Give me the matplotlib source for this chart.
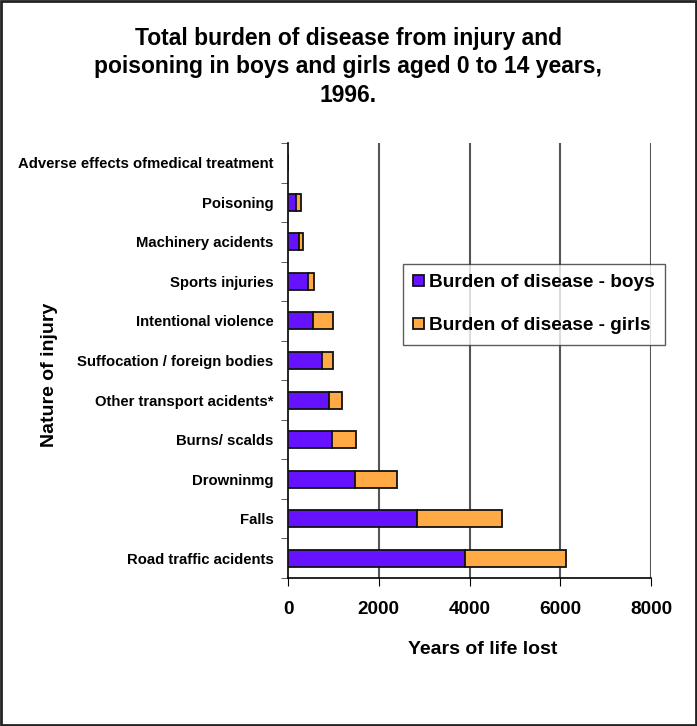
import matplotlib
matplotlib.use("Agg")
import matplotlib.pyplot as plt
import numpy as np

categories = ["Road traffic acidents", "Falls", "Drowninmg", "Burns/ scalds",
              "Other transport acidents*", "Suffocation / foreign bodies",
              "Intentional violence", "Sports injuries", "Machinery acidents",
              "Poisoning", "Adverse effects ofmedical treatment"]
boys = [3900, 2850, 1470, 970, 900, 740, 560, 450, 235, 180, 0]
girls = [2230, 1860, 930, 520, 300, 255, 435, 115, 100, 105, 0]
xticks = [0, 2000, 4000, 6000, 8000]

plt.rcParams['font.family'] = ['Liberation Sans', 'DejaVu Sans']
plt.rcParams['font.weight'] = 'bold'

fig = plt.figure(figsize=(6.97, 7.26), dpi=100)
ax = fig.add_axes([288/697, 1-578/726, (651-288)/697, (578-143)/726])

y = np.arange(len(categories))
purple = '#6611FF'
orange = '#FFAA44'
ax.barh(y, boys, height=0.43, color=purple, edgecolor='#111111', linewidth=1.3,
        label='Burden of disease - boys', zorder=3)
ax.barh(y, girls, left=boys, height=0.43, color=orange, edgecolor='#111111',
        linewidth=1.3, label='Burden of disease - girls', zorder=3)

ax.set_xlim(0, 8000)
ax.set_ylim(-0.5, len(categories) - 0.5)
ax.set_xticks(xticks)
ax.set_xticklabels([str(v) for v in xticks], fontsize=13.7, fontweight='bold')
ax.set_yticks(y)
ax.set_yticklabels(categories, fontsize=10.7, fontweight='bold')
ax.tick_params(axis='y', length=0, pad=10.5)
ax.set_yticks(np.arange(-0.5, len(categories)), minor=True)
ax.tick_params(axis='y', which='minor', length=5, color='#444444', direction='out')
ax.tick_params(axis='x', length=6, pad=10.5, direction='out')

for v in xticks[1:]:
    ax.axvline(v, color='#555555', linewidth=1.5, zorder=1)

for s in ['top', 'right']:
    ax.spines[s].set_visible(False)
ax.spines['left'].set_linewidth(1.2)
ax.spines['bottom'].set_linewidth(1.2)

fig.text(483/697, 1-650/726, 'Years of life lost', fontsize=14, fontweight='bold',
         ha='center', va='center')
fig.text(50/697, 1-375/726, 'Nature of injury', rotation=90, fontsize=14,
         fontweight='bold', ha='center', va='center')

fig.text(0.5, 1-67/726, 'Total burden of disease from injury and\npoisoning in boys and girls aged 0 to 14 years,\n1996.',
         ha='center', va='center', fontsize=16.5, fontweight='bold', linespacing=1.3)

leg = ax.legend(loc='upper left', bbox_to_anchor=((403-288)/363, (578-264)/435),
                prop={'weight': 'bold', 'size': 13.7}, frameon=True,
                fancybox=False, edgecolor='#333333', handlelength=0.53,
                handleheight=0.53, handletextpad=0.28, labelspacing=1.35,
                borderpad=0.55, borderaxespad=0)
leg.get_frame().set_linewidth(1.0)

fig.patches.append(plt.Rectangle((0.002, 0.002), 0.996, 0.996, transform=fig.transFigure,
                                 fill=False, edgecolor='#222222', linewidth=2))

fig.savefig('out.png', dpi=100)
